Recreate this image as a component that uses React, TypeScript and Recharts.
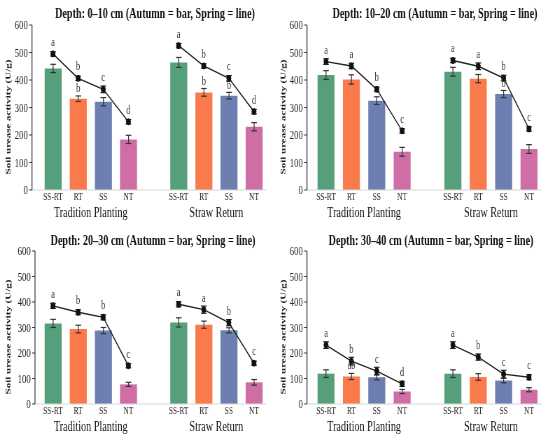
import React from 'react';
import { ComposedChart, Bar, Line, XAxis, YAxis, ErrorBar, LabelList, Cell } from 'recharts';

const FONT = '"Liberation Serif", "Times New Roman", serif';
const S = 0.7; // horizontal compression of the reference figure

const treatments = ['SS-RT', 'RT', 'SS', 'NT'];
const groups = ['Tradition Planting', 'Straw Return'];
const colors = ['#55a07a', '#fb7a4b', '#6d7fb1', '#cf6ea4'];
const yTicks = [0, 100, 200, 300, 400, 500, 600];
const yLabel = 'Soil urease activity (U/g)';

const titles = [
  'Depth: 0–10 cm (Autumn = bar, Spring = line)',
  'Depth: 10–20 cm (Autumn = bar, Spring = line)',
  'Depth: 20–30 cm (Autumn = bar, Spring = line)',
  'Depth: 30–40 cm (Autumn = bar, Spring = line)',
];

// 0–10 cm
const autumn0 = [[442, 332, 321, 184], [464, 355, 343, 230]];
const autumnErr0 = [[15, 10, 15, 15], [18, 14, 12, 15]];
const spring0 = [[495, 406, 366, 248], [525, 451, 406, 285]];
const springErr0 = [[8, 8, 12, 8], [8, 8, 10, 8]];
const barLetters0 = [['', 'b', '', ''], ['', 'b', 'b', '']];
const lineLetters0 = [['a', 'b', 'c', 'd'], ['a', 'b', 'c', 'd']];

// 10–20 cm
const autumn1 = [[418, 402, 325, 139], [430, 405, 349, 149]];
const autumnErr1 = [[16, 17, 14, 16], [16, 15, 13, 16]];
const spring1 = [[467, 451, 366, 215], [471, 450, 407, 222]];
const springErr1 = [[10, 10, 8, 8], [8, 12, 10, 8]];
const barLetters1 = [['', '', '', ''], ['', '', 'b', '']];
const lineLetters1 = [['a', 'a', 'b', 'c'], ['a', 'a', 'b', 'c']];

// 20–30 cm
const autumn2 = [[316, 294, 288, 77], [320, 311, 289, 85]];
const autumnErr2 = [[16, 15, 12, 8], [18, 14, 10, 11]];
const spring2 = [[385, 360, 340, 150], [391, 370, 319, 160]];
const springErr2 = [[10, 10, 10, 8], [10, 14, 12, 8]];
const barLetters2 = [['', '', '', ''], ['', '', '', '']];
const lineLetters2 = [['a', 'b', 'b', 'c'], ['a', 'a', 'b', 'c']];

// 30–40 cm
const autumn3 = [[119, 108, 105, 49], [119, 106, 92, 56]];
const autumnErr3 = [[15, 12, 10, 8], [15, 13, 9, 8]];
const spring3 = [[231, 168, 129, 79], [231, 184, 117, 105]];
const springErr3 = [[13, 15, 15, 10], [13, 12, 15, 10]];
const barLetters3 = [['', 'ab', '', ''], ['', '', '', '']];
const lineLetters3 = [['a', 'b', 'c', 'd'], ['a', 'b', 'c', 'c']];

const panels = [
  { autumn: autumn0, autumnErr: autumnErr0, spring: spring0, springErr: springErr0, barLetters: barLetters0, lineLetters: lineLetters0 },
  { autumn: autumn1, autumnErr: autumnErr1, spring: spring1, springErr: springErr1, barLetters: barLetters1, lineLetters: lineLetters1 },
  { autumn: autumn2, autumnErr: autumnErr2, spring: spring2, springErr: springErr2, barLetters: barLetters2, lineLetters: lineLetters2 },
  { autumn: autumn3, autumnErr: autumnErr3, spring: spring3, springErr: springErr3, barLetters: barLetters3, lineLetters: lineLetters3 },
];

// layout in page pixels (per panel)
const layouts = [
  { left: 0, top: 0, h: 218, axisX: 32, first: 53, last: 254, plotTop: 25, plotBottom: 190, titleX: 155, titleY: 13 },
  { left: 275, top: 0, h: 218, axisX: 32, first: 51, last: 254, plotTop: 25, plotBottom: 190, titleX: 160, titleY: 13 },
  { left: 0, top: 218, h: 219, axisX: 35, first: 53, last: 254, plotTop: 33, plotBottom: 186, titleX: 153, titleY: 22 },
  { left: 275, top: 218, h: 219, axisX: 32, first: 51, last: 254, plotTop: 33, plotBottom: 186, titleX: 156, titleY: 22 },
];

function buildRows(p: any) {
  const rows: any[] = [];
  groups.forEach((g, gi) => {
    if (gi > 0) rows.push({ key: 'gap', label: '', group: '', ti: -1 });
    treatments.forEach((t, ti) => {
      rows.push({
        key: `${gi}-${t}`,
        label: t,
        group: ti === 1 ? g : '',
        ti,
        autumn: p.autumn[gi][ti],
        autumnErr: p.autumnErr[gi][ti],
        spring: p.spring[gi][ti],
        springErr: p.springErr[gi][ti],
        barLetter: p.barLetters[gi][ti],
        lineLetter: p.lineLetters[gi][ti],
      });
    });
  });
  return rows;
}

const W = 275 / S;
const EXTRA = 8; // room below the group labels so descenders are not clipped

function Panel({ idx }: { idx: number }) {
  const L = layouts[idx];
  const rows = buildRows(panels[idx]);
  const yW = L.axisX / S;
  const slot = (L.last - L.first) / 8 / S;
  const padL = L.first / S - yW - slot / 2;
  const right = W - (L.last / S + slot / 2);
  const xH = L.h - L.plotBottom;
  const byKey: Record<string, any> = {};
  rows.forEach((r) => (byKey[r.key] = r));

  const renderTick = (props: any) => {
    const { x, y, payload } = props;
    const row = byKey[payload.value];
    if (!row) return <g />;
    return (
      <g>
        <text x={x} y={y + 10} textAnchor="middle" fontSize={10.5} fontFamily={FONT} fill="#222">
          {row.label}
        </text>
        {row.group ? (
          <text x={x + slot / 2} y={y + 27} textAnchor="middle" fontSize={14.5} fontFamily={FONT} fill="#111">
            {row.group}
          </text>
        ) : null}
      </g>
    );
  };

  const renderLetter = (off: number) => (props: any) => {
    const { x, y, width, value } = props;
    if (!value) return null;
    return (
      <text x={x + (width || 0) / 2} y={y - off} textAnchor="middle" fontSize={12} fontFamily={FONT} fill="#333">
        {value}
      </text>
    );
  };

  const renderYLabel = (props: any) => {
    const vb = props.viewBox || {};
    const cx = 11.5;
    const cy = (vb.y || 0) + (vb.height || 0) / 2 + 9.5;
    return (
      <text
        x={cx}
        y={cy}
        transform={`rotate(-90, ${cx}, ${cy})`}
        textAnchor="middle"
        dominantBaseline="central"
        fontSize={11}
        fontWeight="bold"
        fontFamily={FONT}
        fill="#222"
      >
        {yLabel}
      </text>
    );
  };

  return (
    <div
      style={{
        position: 'absolute',
        left: L.left,
        top: L.top,
        width: W,
        height: L.h,
        transform: `scaleX(${S})`,
        transformOrigin: '0 0',
        willChange: 'transform',
      }}
    >
      <div
        style={{
          position: 'absolute',
          left: L.titleX / S,
          top: L.titleY - 9,
          transform: 'translateX(-50%)',
          whiteSpace: 'nowrap',
          fontFamily: FONT,
          fontWeight: 'bold',
          fontSize: 14.5,
          lineHeight: '18px',
          color: '#111',
        }}
      >
        {titles[idx]}
      </div>
      <ComposedChart
        width={W}
        height={L.h + EXTRA}
        data={rows}
        margin={{ top: L.plotTop, right, left: 0, bottom: EXTRA }}
      >
        <XAxis
          dataKey="key"
          type="category"
          interval={0}
          height={xH}
          padding={{ left: padL, right: 0 }}
          tickLine={false}
          tickSize={0}
          tickMargin={0}
          axisLine={{ stroke: '#d6d6d6', strokeWidth: 1 }}
          tick={renderTick}
        />
        <YAxis
          type="number"
          domain={[0, 600]}
          ticks={yTicks}
          interval={0}
          width={yW}
          tickSize={4}
          tickMargin={2}
          axisLine={{ stroke: '#333', strokeWidth: 1.2 }}
          tickLine={{ stroke: '#333' }}
          tick={{ fontSize: 12.5, fill: '#222', fontFamily: FONT }}
          label={{ value: yLabel, content: renderYLabel }}
        />
        <Bar dataKey="autumn" barSize={17 / S} isAnimationActive={false}>
          {rows.map((r, i) => (
            <Cell key={i} fill={r.ti >= 0 ? colors[r.ti] : 'none'} />
          ))}
          <ErrorBar dataKey="autumnErr" width={4} stroke="#333" strokeWidth={1.2} />
          <LabelList dataKey="barLetter" content={renderLetter(7)} />
        </Bar>
        <Line
          dataKey="spring"
          stroke="#222"
          strokeWidth={1.4}
          dot={{ r: 3, fill: '#111', stroke: '#111', strokeWidth: 1 }}
          activeDot={false}
          connectNulls={false}
          isAnimationActive={false}
        >
          <ErrorBar dataKey="springErr" width={4} stroke="#222" strokeWidth={1.2} />
          <LabelList dataKey="lineLetter" content={renderLetter(8)} />
        </Line>
      </ComposedChart>
    </div>
  );
}

export default function App() {
  return (
    <div style={{ position: 'absolute', left: 0, top: 0, width: 550, height: 437, background: '#fff', overflow: 'hidden' }}>
      {[0, 1, 2, 3].map((i) => (
        <Panel key={i} idx={i} />
      ))}
    </div>
  );
}
